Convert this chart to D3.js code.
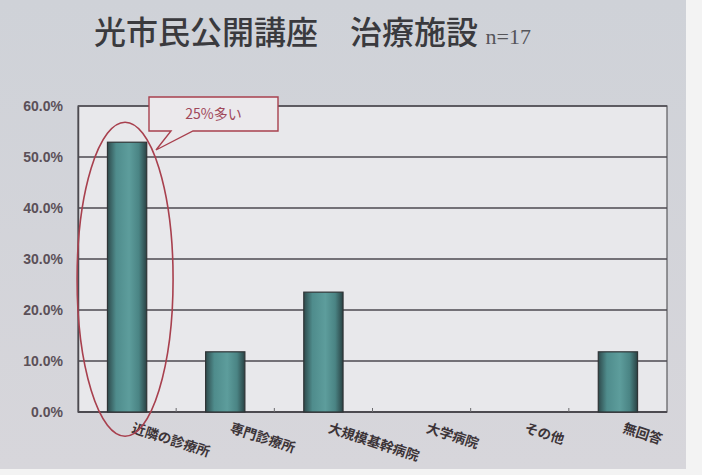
<!DOCTYPE html>
<html>
<head>
<meta charset="utf-8">
<script src="https://cdn.jsdelivr.net/npm/d3@7/dist/d3.min.js"></script>
<style>
  html, body { margin: 0; padding: 0; background: #f2f2f2; }
  svg { display: block; }
</style>
</head>
<body>
<svg id="chart" width="702" height="475"></svg>
<script>
// Treatment facility survey, n = 17 (percent of respondents)
const categories = ["近隣の診療所", "専門診療所", "大規模基幹病院", "大学病院", "その他", "無回答"];
const values = [52.9, 11.8, 23.5, 0, 0, 11.8];
const yTicks = [0, 10, 20, 30, 40, 50, 60];
const titleMain = "光市民公開講座　治療施設";
const titleN = "n=17";
const calloutText = "25%多い";

const svg = d3.select("#chart");
const W = 702, H = 475;
const margin = { left: 78, right: 35, top: 106, bottom: 63 };
const plotW = W - margin.left - margin.right;
const plotH = H - margin.top - margin.bottom;

const defs = svg.append("defs");
const bg = defs.append("linearGradient").attr("id", "slideBg")
  .attr("x1", 0).attr("y1", 0).attr("x2", 0).attr("y2", 1);
bg.append("stop").attr("offset", "0%").attr("stop-color", "#cfd2d8");
bg.append("stop").attr("offset", "100%").attr("stop-color", "#d7d6db");

const barGrad = defs.append("linearGradient").attr("id", "barFill")
  .attr("x1", 0).attr("y1", 0).attr("x2", 1).attr("y2", 0);
barGrad.append("stop").attr("offset", "0%").attr("stop-color", "#2e4a4c");
barGrad.append("stop").attr("offset", "22%").attr("stop-color", "#4f8c8c");
barGrad.append("stop").attr("offset", "55%").attr("stop-color", "#5d9d9c");
barGrad.append("stop").attr("offset", "80%").attr("stop-color", "#4a8484");
barGrad.append("stop").attr("offset", "100%").attr("stop-color", "#2a4244");

// slide surface and white margins
svg.append("rect").attr("width", W).attr("height", H).attr("fill", "#f3f3f3");
svg.append("rect").attr("x", 0).attr("y", 0).attr("width", 686).attr("height", 469)
  .attr("fill", "url(#slideBg)");

// title
const title = svg.append("text").attr("x", 94).attr("y", 44)
  .attr("fill", "#3a3a3e");
title.append("tspan").text(titleMain)
  .attr("font-family", "'Noto Sans CJK JP', sans-serif")
  .attr("font-weight", 500).attr("font-size", 32);
title.append("tspan").text(" " + titleN)
  .attr("font-family", "'Liberation Serif', serif")
  .attr("font-size", 22).attr("dx", 2).attr("fill", "#55555a");

const g = svg.append("g").attr("transform", `translate(${margin.left},${margin.top})`);

const x = d3.scaleBand().domain(categories).range([0, plotW]).paddingInner(0.6).paddingOuter(0.3);
const xOuter = d3.scaleBand().domain(categories).range([0, plotW]);
const y = d3.scaleLinear().domain([0, 60]).range([plotH, 0]);

// plot area
g.append("rect").attr("width", plotW).attr("height", plotH)
  .attr("fill", "#e8e8eb").attr("stroke", "#5a5a5e").attr("stroke-width", 1.2);

// gridlines
g.append("g").selectAll("line").data(yTicks.filter(d => d > 0)).join("line")
  .attr("x1", 0).attr("x2", plotW)
  .attr("y1", d => y(d)).attr("y2", d => y(d))
  .attr("stroke", "#4c4a50").attr("stroke-width", 1.4);

// y axis
const yAxis = g.append("g").call(
  d3.axisLeft(y).tickValues(yTicks).tickSize(0).tickPadding(15)
    .tickFormat(d => d3.format(".1f")(d) + "%"));
yAxis.select(".domain").attr("stroke", "#4c4a50").attr("stroke-width", 1.5);
yAxis.selectAll("text")
  .attr("font-family", "'Liberation Sans', Arial, sans-serif")
  .attr("font-weight", "bold").attr("font-size", 14)
  .attr("fill", "#5b5058");

// x axis line and small boundary ticks
g.append("line").attr("x1", 0).attr("x2", plotW).attr("y1", plotH).attr("y2", plotH)
  .attr("stroke", "#4c4a50").attr("stroke-width", 2);
g.append("g").selectAll("line").data(categories.slice(1)).join("line")
  .attr("x1", d => xOuter(d)).attr("x2", d => xOuter(d))
  .attr("y1", plotH).attr("y2", plotH - 4)
  .attr("stroke", "#6a6a6e").attr("stroke-width", 1);

// bars
g.append("g").selectAll("rect").data(categories.map((c, i) => ({ c, v: values[i] })))
  .join("rect")
  .filter(d => d.v > 0)
  .attr("x", d => x(d.c))
  .attr("width", x.bandwidth())
  .attr("y", d => y(d.v))
  .attr("height", d => plotH - y(d.v))
  .attr("fill", "url(#barFill)")
  .attr("stroke", "#2f3436").attr("stroke-width", 1.2);

// category labels, slanted
g.append("g").selectAll("text").data(categories).join("text")
  .attr("transform", d => `translate(${xOuter(d) + xOuter.bandwidth() / 2 + 4},${plotH + 20}) rotate(18)`)
  .attr("font-family", "'Noto Sans CJK JP', sans-serif")
  .attr("font-weight", 700).attr("font-size", 13.5)
  .attr("fill", "#3c3438")
  .text(d => d);

// highlight ellipse around the first category
const cx0 = xOuter(categories[0]) + xOuter.bandwidth() / 2 - 2;
g.append("ellipse")
  .attr("cx", cx0).attr("cy", y(values[0]) + 137)
  .attr("rx", 48).attr("ry", 157)
  .attr("fill", "none").attr("stroke", "#a8404e").attr("stroke-width", 1.6);

// callout box with pointer
const bx = 71, by = -9, bw = 129, bh = 34;
const callout = g.append("g");
callout.append("path")
  .attr("d", `M${bx},${by} H${bx + bw} V${by + bh} H${bx + 44} L${bx + 7},${by + 53} L${bx + 22},${by + bh} H${bx} Z`)
  .attr("fill", "#ebe9ec").attr("stroke", "#a8404e").attr("stroke-width", 1.4);
callout.append("text")
  .attr("x", bx + bw / 2).attr("y", by + 22)
  .attr("text-anchor", "middle")
  .attr("font-family", "'Noto Sans CJK JP', sans-serif")
  .attr("font-size", 14).attr("fill", "#a0485a")
  .text(calloutText);
</script>
</body>
</html>
